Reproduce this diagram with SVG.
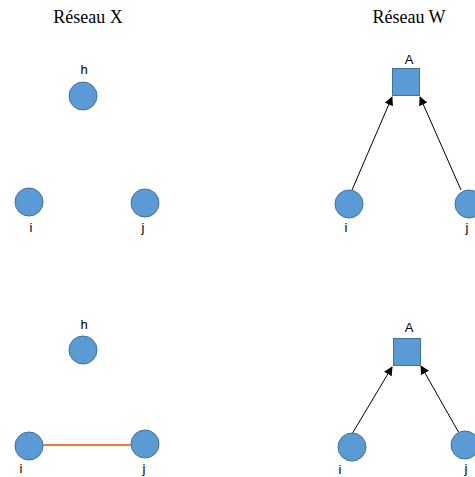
<svg xmlns="http://www.w3.org/2000/svg" width="475" height="477" viewBox="0 0 475 477">
<style>
.title{font-family:"Liberation Serif","Times New Roman",serif;font-size:18px;fill:#000;text-anchor:middle}
.lbl{font-family:"Liberation Sans",Arial,sans-serif;font-size:13px;fill:#000;text-anchor:middle}
.nd{fill:#5B9BD5;stroke:#41719C;stroke-width:1}
.arr{stroke:#000;stroke-width:1;fill:none;marker-end:url(#ah)}
.edge{stroke:#ED7D31;stroke-width:2}
</style>
<defs>
<marker id="ah" viewBox="0 0 10 10" refX="9" refY="5" markerWidth="9" markerHeight="9" markerUnits="userSpaceOnUse" orient="auto">
<path d="M0,0 L10,5 L0,10 Z" fill="#000"/>
</marker>
</defs>
<text class="title" x="88" y="23">Réseau X</text>
<text class="title" x="409" y="23">Réseau W</text>
<g id="connectors">
<line class="arr" x1="352" y1="190" x2="392" y2="97"/>
<line class="arr" x1="461" y1="190" x2="420" y2="97"/>
<line class="edge" x1="43" y1="445" x2="131" y2="445"/>
<line class="arr" x1="352" y1="434" x2="392" y2="367"/>
<line class="arr" x1="459" y1="433" x2="421" y2="366"/>
</g>
<g id="X1_h"><circle class="nd" cx="83" cy="96" r="14"/><text class="lbl" x="84" y="74">h</text></g>
<g id="X1_i"><circle class="nd" cx="29" cy="202" r="14"/><text class="lbl" x="31" y="232">i</text></g>
<g id="X1_j"><circle class="nd" cx="145" cy="203" r="14"/><text class="lbl" x="143" y="232">j</text></g>
<g id="W1_A"><rect class="nd" x="392.5" y="68.5" width="27" height="27"/><text class="lbl" x="409" y="64">A</text></g>
<g id="W1_i"><circle class="nd" cx="349" cy="204" r="14"/><text class="lbl" x="346" y="232">i</text></g>
<g id="W1_j"><circle class="nd" cx="469" cy="204" r="14"/><text class="lbl" x="467" y="232">j</text></g>
<g id="X2_h"><circle class="nd" cx="83" cy="350" r="14"/><text class="lbl" x="84" y="329">h</text></g>
<g id="X2_i"><circle class="nd" cx="29" cy="446" r="14"/><text class="lbl" x="21" y="473">i</text></g>
<g id="X2_j"><circle class="nd" cx="145" cy="444" r="14"/><text class="lbl" x="144" y="473">j</text></g>
<g id="W2_A"><rect class="nd" x="393.5" y="338.5" width="27" height="27"/><text class="lbl" x="409" y="332">A</text></g>
<g id="W2_i"><circle class="nd" cx="352" cy="447" r="14"/><text class="lbl" x="340" y="474">i</text></g>
<g id="W2_j"><circle class="nd" cx="465" cy="445" r="14"/><text class="lbl" x="466" y="473">j</text></g>
</svg>
